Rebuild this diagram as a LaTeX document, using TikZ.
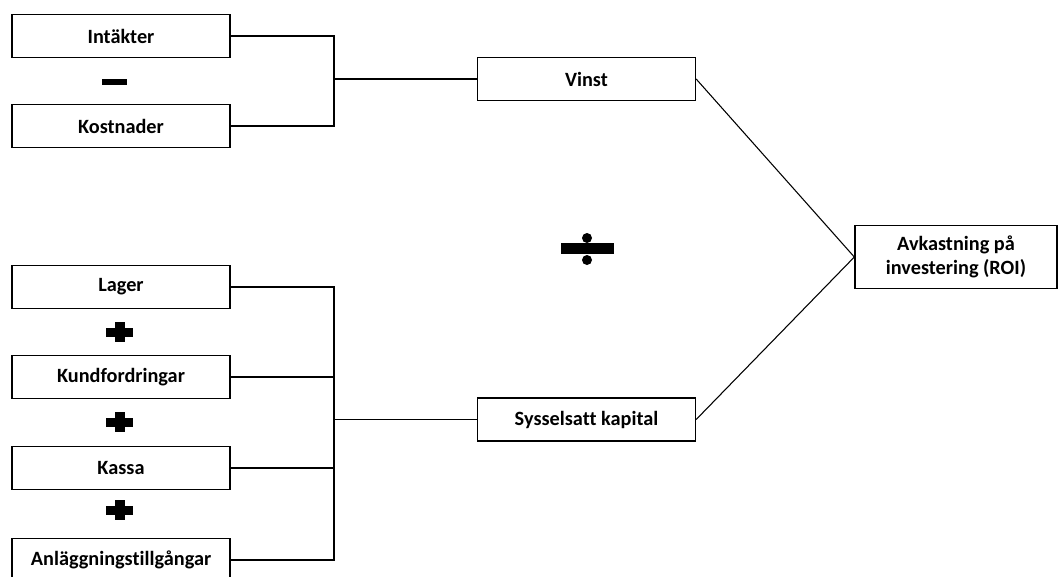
\documentclass[tikz,border=0pt]{standalone}
\usepackage{fontspec}
\setmainfont{Carlito}[Ligatures=NoCommon]
\usepackage{tikz}

\begin{document}
\begin{tikzpicture}[x=0.75pt,y=0.75pt,yscale=-1,xscale=1,
    box/.style={draw, line width=1pt, minimum width=163.5pt, minimum height=32.25pt, inner sep=0pt,
        font=\fontsize{15.2}{18.5}\selectfont\bfseries},
    roibox/.style={box, minimum width=151.5pt, minimum height=47.25pt, align=center},
    link/.style={line width=0.8pt}]
        \clip (0,0) rectangle (1060,576);
        
        % Boxes left
        \node[box] (intakter) at (121,36) {Intäkter};
        \node[box] (kostnader) at (121,126) {Kostnader};
        \node[box] (lager) at (121,287) {Lager};
        \node[box] (kund) at (121,377) {Kundfordringar};
        \node[box] (kassa) at (121,468) {Kassa};
        \node[box] (anlagg) at (121,560) {Anläggningstillgångar};
        % Boxes middle and right
        \node[box] (vinst) at (586.5,79) {Vinst};
        \node[box] (kapital) at (586.5,419.5) {Sysselsatt kapital};
        \node[roibox] (roi) at (956,257) {Avkastning på\\investering (ROI)};
        
        % Brackets
        \coordinate (bt) at (334,0);
        \draw[link] (intakter.east) -- (intakter.east -| bt) -- (kostnader.east -| bt) -- (kostnader.east);
        \draw[link] (vinst.west -| bt) -- (vinst.west);
        \draw[link] (lager.east) -- (lager.east -| bt) -- (anlagg.east -| bt) -- (anlagg.east);
        \draw[link] (kund.east) -- (kund.east -| bt);
        \draw[link] (kassa.east) -- (kassa.east -| bt);
        \draw[link] (kapital.west -| bt) -- (kapital.west);
        
        % Lines into ROI
        \draw[link] (vinst.east) -- (roi.west);
        \draw[link] (kapital.east) -- (roi.west);
        
        % Minus
        \fill (102,79) rectangle (127,85);
        % Plus
        \foreach \y in {332,422,510} {
            \fill (106,\y-4.5) rectangle (133,\y+4.5);
            \fill (115,\y-10) rectangle (125,\y+10);
        }
        % Divide
        \fill (561,243) rectangle (614,254);
        \fill (587,238) circle (5);
        \fill (587,260) circle (5);
        
\end{tikzpicture}
\end{document}
